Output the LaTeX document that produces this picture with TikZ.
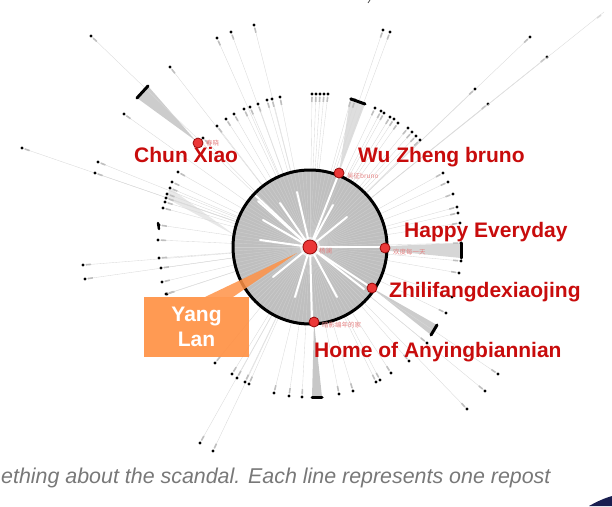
\documentclass[tikz,border=0pt]{standalone}
\usepackage{fontspec}
\setmainfont{Liberation Sans}
\newfontfamily\cjk{Noto Sans CJK SC}
\usetikzlibrary{calc}
\definecolor{lblred}{RGB}{200,12,12}
\definecolor{nodered}{RGB}{235,55,55}
\definecolor{noderim}{RGB}{150,10,10}
\definecolor{callout}{RGB}{255,146,70}
\definecolor{capgray}{RGB}{120,120,120}
\definecolor{navy}{RGB}{25,30,80}
\definecolor{pale}{RGB}{228,130,130}
\tikzset{
 bigLabel/.style={font=\bfseries\fontsize{21}{25}\selectfont, text=lblred, anchor=base west, inner sep=0pt},
 redDot/.style={circle, fill=nodered, draw=noderim, line width=0.8pt, minimum size=10pt, inner sep=0pt},
 tinyLabel/.style={font=\cjk\fontsize{6.5}{7}\selectfont, text=pale, anchor=west, inner sep=0pt},
 blackDot/.style={circle, fill=black, inner sep=0pt, minimum size=3.4pt},
 rayLine/.style={draw=black!15, line width=0.35pt},
 tagMark/.style={draw=black!25, line width=1.6pt},
 spoke/.style={draw=white, line width=2pt, line cap=round},
 wedgeFill/.style={fill=black!20, draw=none},
 barMark/.style={draw=black, line width=3pt, line cap=round},
}
\begin{document}
\begin{tikzpicture}[x=1pt,y=-1pt]
\useasboundingbox (0,0) rectangle (612,506);
\coordinate (c) at (310,247);
% wedges (bundles of reposts)
\fill[wedgeFill] (196,141) -- (137,98) -- (148,86) -- cycle;
\fill[wedgeFill, fill=black!13] (339,173) -- (350,99) -- (365,104) -- cycle;
\fill[wedgeFill, fill=black!16] (390,246) -- (461,243) -- (461,258) -- (390,251) -- cycle;
\fill[wedgeFill] (372,288) -- (431,335) -- (437,325) -- cycle;
\fill[wedgeFill, fill=black!22] (314,322) -- (312,397) -- (322,397) -- cycle;
\fill[wedgeFill, fill=black!9] (236,236) -- (170,188) -- (166,198) -- cycle;
% rays and outer dots
\foreach \x/\y in {91/36,217/38,231/32,254/25,170/67,124/114,22/148,98/162,95/173,83/265,85/279,
 383/30,390/32,530/37,547/57,475/89,488/104,200/443,213/451,467/409,485/391,498/374,203/138,
 217/126,226/119,234/114,244/109,250/107,258/104,267/100,272/99,280/97,312/94,316/94,320/94,324/94,328/94,
 351/99,355/100,375/108,381/111,384/113,390/117,394/119,398/123,408/128,412/132,416/136,420/140,
 443/173,448/182,453/194,457/207,458/213,460/223,461/243,461/261,459/273,452/297,446/313,427/343,409/361,
 215/363,232/374,237/378,245/382,249/384,274/393,289/396,302/397,339/394,353/391,376/382,380/380,391/373,
 178/172,172/182,170/188,167/194,166/198,165/202,163/208,159/225,158/240,159/258,161/268,162/282,167/294,166/294}{
  \draw[rayLine] (c) -- (\x,\y);
  \draw[tagMark] ($(\x,\y)!3pt!(c)$) -- ($(\x,\y)!8pt!(c)$);
  \node[blackDot] at (\x,\y) {};
}
\draw[rayLine] (c) -- (604,12);
\draw[tagMark, draw=black!15] (597,18) -- (601,15);
% bars at the ends of bundles
\draw[barMark] (137,98) -- (148,86);
\draw[barMark] (351,99) -- (365,104);
\draw[barMark] (461,243) -- (461,258);
\draw[barMark] (431,335) -- (437,325);
\draw[barMark] (312,397) -- (322,397);
\draw[barMark, line width=2.4pt] (158,223) -- (159,229);
% inner disk
\fill[black!25] (c) circle (77pt);
\foreach \a in {0,3,...,357}{\draw[white, opacity=0.22, line width=0.4pt] (c) -- ++(\a:77pt);}
\foreach \x/\y in {255/195,258/201,280/203,297/192,333/205,347/217,383/247,367/285,364/289,337/297,312/320,295/297,273/277,260/240,263/220,339/173}{
  \draw[spoke] ($(c)!9pt!(\x,\y)$) -- (\x,\y);
}
\fill[white, opacity=0.6] (c) circle (10pt);
\draw[black, line width=3pt] (c) circle (77pt);
% red nodes
\node[redDot, minimum size=14pt] (yl) at (c) {};
\node[redDot] (chun) at (198,143) {};
\node[redDot] (wu) at (339,173) {};
\node[redDot] (happy) at (385,248) {};
\node[redDot] (zhili) at (372,288) {};
\node[redDot] (home) at (314,322) {};
% small names
\node[tinyLabel] (tyl) at (319,251) {杨澜};
\node[tinyLabel] (tchun) at (206,143) {春晓};
\node[tinyLabel] (twu) at (347,176) {吴征bruno};
\node[tinyLabel] (thappy) at (393,252) {欢度每一天};
\node[tinyLabel] (thome) at (322,325) {暗影编年的家};
% big labels
\node[bigLabel] (lchun) at (134,162) {Chun Xiao};
\node[bigLabel] (lwu) at (358,162) {Wu Zheng bruno};
\node[bigLabel] (lhappy) at (404,237) {Happy Everyday};
\node[bigLabel] (lzhili) at (389,297) {Zhilifangdexiaojing};
\node[bigLabel] (lhome) at (314,357) {Home of Anyingbiannian};
% Yang Lan callout
\fill[callout, opacity=0.85] (205,297) -- (233,297) -- (297,253) -- cycle;
\node[fill=callout, fill opacity=0.93, text opacity=1, text=white, minimum width=105pt, minimum height=60pt, inner sep=0pt, align=center, font=\bfseries\fontsize{21}{25}\selectfont] (ylbox) at (196.5,327) {Yang\\Lan};
% caption
\node[font=\itshape\fontsize{21.4}{25}\selectfont, text=capgray, anchor=base west, inner sep=0pt] (cap) at (1,483) {ething about the scandal. Each line represents one repost};
% decorations at the edges
\fill[navy] (589,506) .. controls (598,501) and (605,498) .. (612,496) -- (612,506) -- cycle;
\draw[black!70, line width=0.8pt] (368,3) -- (370,0);
\end{tikzpicture}
\end{document}
